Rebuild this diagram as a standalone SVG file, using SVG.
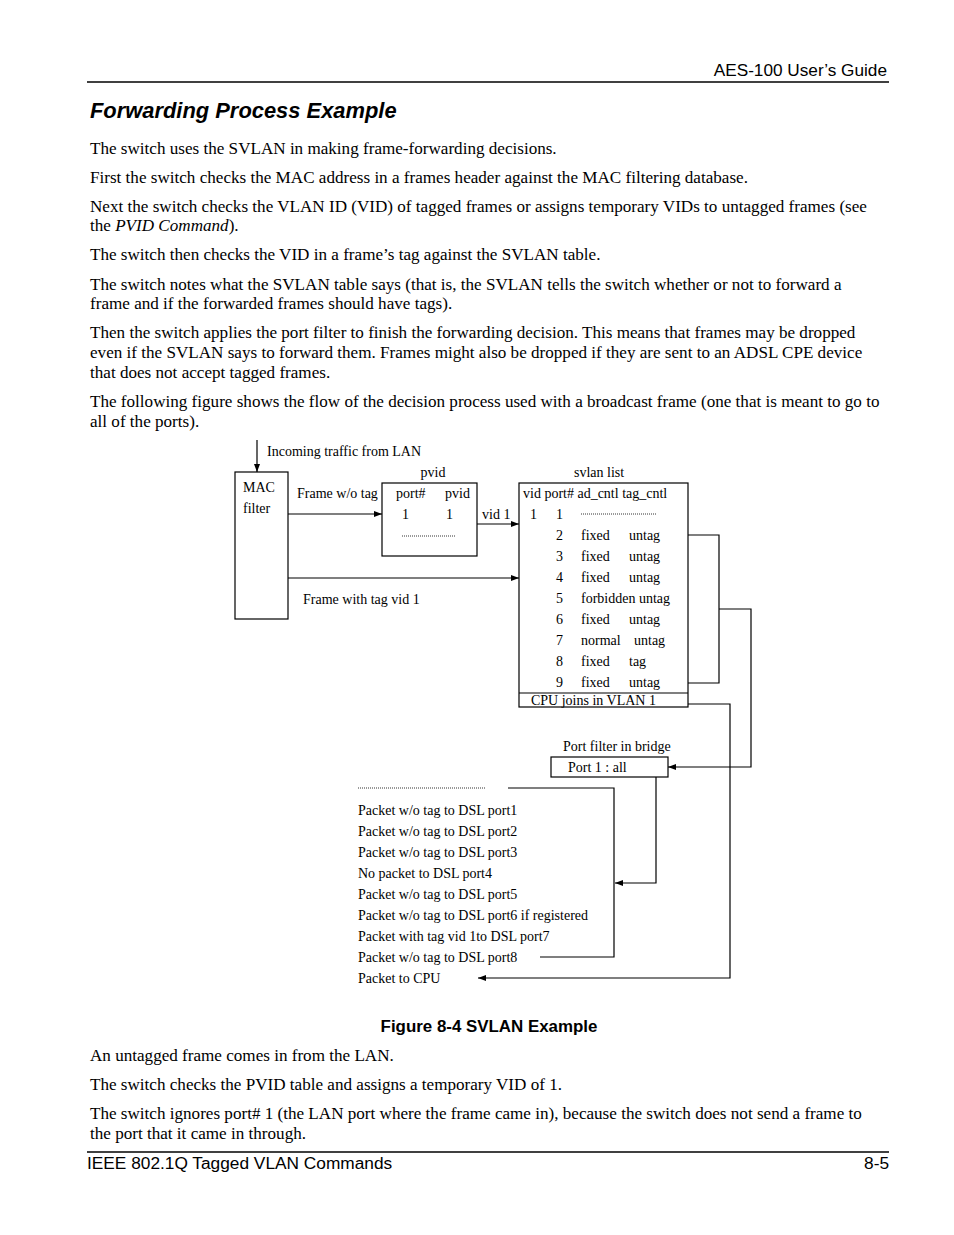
<svg xmlns="http://www.w3.org/2000/svg" width="954" height="1235" viewBox="0 0 954 1235">
<defs>
<style>
.b{font-family:"Liberation Serif","Times New Roman",serif;font-size:17.1px;fill:#000}
.h{font-family:"Liberation Sans",Arial,sans-serif;fill:#000}
.d{font-family:"Liberation Serif","Times New Roman",serif;font-size:14px;fill:#000}
.ln{stroke:#000;stroke-width:1.2;fill:none}
.bx{stroke:#000;stroke-width:1.2;fill:#fff}
.dot{stroke:#000;stroke-width:0.8;stroke-dasharray:1 1;fill:none}
</style>
<marker id="ah" markerWidth="8" markerHeight="6" refX="8" refY="3" orient="auto" markerUnits="userSpaceOnUse">
<path d="M0,0 L8,3 L0,6 Z" fill="#000"/>
</marker>
</defs>
<rect width="954" height="1235" fill="#fff"/>

<text class="h" x="887" y="76" font-size="17.2" text-anchor="end">AES-100 User’s Guide</text>
<line x1="87" y1="82" x2="889" y2="82" stroke="#000" stroke-width="1.3"/>
<text class="h" x="90" y="118" font-size="21.9" font-weight="bold" font-style="italic">Forwarding Process Example</text>

<text class="b" x="90" y="154">The switch uses the SVLAN in making frame-forwarding decisions.</text>
<text class="b" x="90" y="183">First the switch checks the MAC address in a frames header against the MAC filtering database.</text>
<text class="b" x="90" y="212">Next the switch checks the VLAN ID (VID) of tagged frames or assigns temporary VIDs to untagged frames (see</text>
<text class="b" x="90" y="231">the <tspan font-style="italic">PVID Command</tspan>).</text>
<text class="b" x="90" y="260">The switch then checks the VID in a frame’s tag against the SVLAN table.</text>
<text class="b" x="90" y="290">The switch notes what the SVLAN table says (that is, the SVLAN tells the switch whether or not to forward a</text>
<text class="b" x="90" y="309">frame and if the forwarded frames should have tags).</text>
<text class="b" x="90" y="338">Then the switch applies the port filter to finish the forwarding decision. This means that frames may be dropped</text>
<text class="b" x="90" y="358">even if the SVLAN says to forward them. Frames might also be dropped if they are sent to an ADSL CPE device</text>
<text class="b" x="90" y="378">that does not accept tagged frames.</text>
<text class="b" x="90" y="407">The following figure shows the flow of the decision process used with a broadcast frame (one that is meant to go to</text>
<text class="b" x="90" y="427">all of the ports).</text>

<g id="connectors">
<line class="ln" x1="257" y1="440" x2="257" y2="472" marker-end="url(#ah)"/>
<line class="ln" x1="288" y1="514" x2="382" y2="514" marker-end="url(#ah)"/>
<line class="ln" x1="477" y1="524" x2="519" y2="524" marker-end="url(#ah)"/>
<line class="ln" x1="288" y1="578" x2="519" y2="578" marker-end="url(#ah)"/>
<polyline class="ln" points="688,535 719,535 719,683 688,683"/>
<polyline class="ln" points="719,609 751,609 751,767 668,767" marker-end="url(#ah)"/>
<polyline class="ln" points="688,704 730,704 730,978 478,978" marker-end="url(#ah)"/>
<polyline class="ln" points="656,777 656,883 615,883" marker-end="url(#ah)"/>
<polyline class="ln" points="508,788 614,788 614,957 540,957"/>
</g>

<g id="mac">
<rect class="bx" x="235" y="472" width="53" height="147"/>
<text class="d" x="243" y="492">MAC</text>
<text class="d" x="243" y="513">filter</text>
</g>
<text class="d" x="267" y="456">Incoming traffic from LAN</text>
<text class="d" x="297" y="498">Frame w/o tag</text>
<text class="d" x="303" y="604">Frame with tag vid 1</text>
<text class="d" x="482" y="519">vid 1</text>

<g id="pvid">
<text class="d" x="433" y="477" text-anchor="middle">pvid</text>
<rect class="bx" x="382" y="483" width="95" height="73"/>
<text class="d" x="396" y="498">port#</text>
<text class="d" x="445" y="498">pvid</text>
<text class="d" x="402" y="519">1</text>
<text class="d" x="446" y="519">1</text>
<line class="dot" x1="402" y1="536" x2="455" y2="536"/>
</g>

<g id="svlan">
<text class="d" x="574" y="477">svlan list</text>
<rect class="bx" x="519" y="483" width="169" height="224"/>
<line class="ln" x1="519" y1="693" x2="688" y2="693"/>
<text class="d" x="523" y="498">vid port# ad_cntl tag_cntl</text>
<text class="d" x="530" y="519">1</text>
<text class="d" x="556" y="519">1</text>
<line class="dot" x1="581" y1="514" x2="656" y2="514"/>
<text class="d" x="556" y="540">2</text><text class="d" x="581" y="540">fixed</text><text class="d" x="629" y="540">untag</text>
<text class="d" x="556" y="561">3</text><text class="d" x="581" y="561">fixed</text><text class="d" x="629" y="561">untag</text>
<text class="d" x="556" y="582">4</text><text class="d" x="581" y="582">fixed</text><text class="d" x="629" y="582">untag</text>
<text class="d" x="556" y="603">5</text><text class="d" x="581" y="603">forbidden untag</text>
<text class="d" x="556" y="624">6</text><text class="d" x="581" y="624">fixed</text><text class="d" x="629" y="624">untag</text>
<text class="d" x="556" y="645">7</text><text class="d" x="581" y="645">normal</text><text class="d" x="634" y="645">untag</text>
<text class="d" x="556" y="666">8</text><text class="d" x="581" y="666">fixed</text><text class="d" x="629" y="666">tag</text>
<text class="d" x="556" y="687">9</text><text class="d" x="581" y="687">fixed</text><text class="d" x="629" y="687">untag</text>
<text class="d" x="531" y="705" font-size="13.6">CPU joins in VLAN 1</text>
</g>

<g id="portfilter">
<text class="d" x="563" y="751">Port filter in bridge</text>
<rect class="bx" x="551" y="757" width="117" height="20"/>
<text class="d" x="568" y="772">Port 1 : all</text>
</g>

<g id="packets">
<line class="dot" x1="358" y1="788" x2="486" y2="788"/>
<text class="d" x="358" y="815">Packet w/o tag to DSL port1</text>
<text class="d" x="358" y="836">Packet w/o tag to DSL port2</text>
<text class="d" x="358" y="857">Packet w/o tag to DSL port3</text>
<text class="d" x="358" y="878">No packet to DSL port4</text>
<text class="d" x="358" y="899">Packet w/o tag to DSL port5</text>
<text class="d" x="358" y="920">Packet w/o tag to DSL port6 if registered</text>
<text class="d" x="358" y="941">Packet with tag vid 1to DSL port7</text>
<text class="d" x="358" y="962">Packet w/o tag to DSL port8</text>
<text class="d" x="358" y="983">Packet to CPU</text>
</g>

<text class="h" x="489" y="1032" font-size="16.9" font-weight="bold" text-anchor="middle">Figure 8-4 SVLAN Example</text>

<text class="b" x="90" y="1061">An untagged frame comes in from the LAN.</text>
<text class="b" x="90" y="1090">The switch checks the PVID table and assigns a temporary VID of 1.</text>
<text class="b" x="90" y="1119">The switch ignores port# 1 (the LAN port where the frame came in), because the switch does not send a frame to</text>
<text class="b" x="90" y="1139">the port that it came in through.</text>

<line x1="87" y1="1152" x2="889" y2="1152" stroke="#000" stroke-width="1.3"/>
<text class="h" x="87" y="1169" font-size="17.3">IEEE 802.1Q Tagged VLAN Commands</text>
<text class="h" x="889" y="1169" font-size="17.3" text-anchor="end">8-5</text>
</svg>
